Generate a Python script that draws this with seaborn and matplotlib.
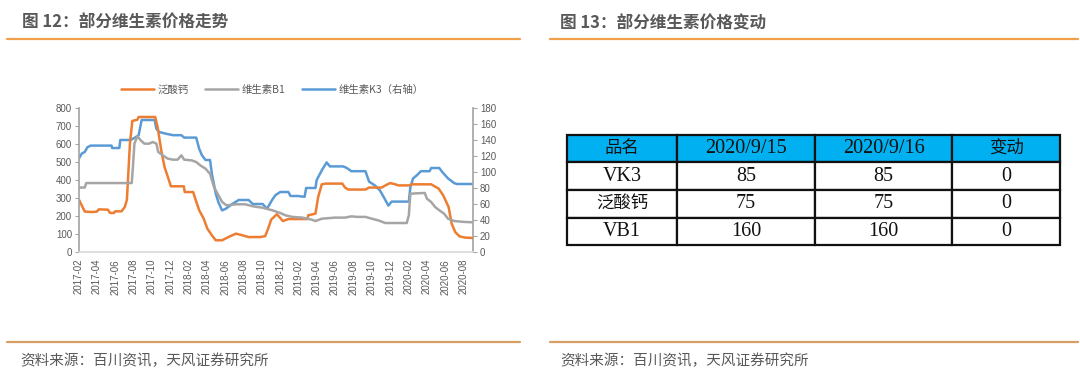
import pandas as pd
import seaborn as sns
import matplotlib.pyplot as plt
import matplotlib.dates as mdates
from matplotlib.lines import Line2D

# ---- data ----
calcium_dates = ["2017-02-01", "2017-02-20", "2017-03-15", "2017-04-01", "2017-04-08", "2017-05-08",
                 "2017-05-15", "2017-05-28", "2017-06-01", "2017-06-22", "2017-07-03", "2017-07-10",
                 "2017-07-20", "2017-07-28", "2017-08-14", "2017-08-18", "2017-10-12", "2017-10-20",
                 "2017-11-01", "2017-11-12", "2017-11-23", "2017-12-03", "2018-01-15", "2018-01-18",
                 "2018-02-15", "2018-02-20", "2018-03-07", "2018-03-22", "2018-04-03", "2018-04-18",
                 "2018-05-01", "2018-05-22", "2018-06-12", "2018-07-07", "2018-07-28", "2018-08-18",
                 "2018-09-25", "2018-10-12", "2018-10-22", "2018-11-01", "2018-11-20", "2018-12-10",
                 "2018-12-28", "2019-03-01", "2019-03-04", "2019-03-28", "2019-04-06", "2019-04-18",
                 "2019-05-01", "2019-06-25", "2019-07-04", "2019-07-15", "2019-09-10", "2019-09-22",
                 "2019-11-03", "2019-11-15", "2019-12-01", "2019-12-18", "2019-12-28", "2020-02-01",
                 "2020-02-12", "2020-04-15", "2020-05-10", "2020-05-25", "2020-06-12", "2020-06-22",
                 "2020-07-04", "2020-07-18", "2020-08-06", "2020-09-01"]
calcium_vals = [290, 225, 222, 224, 237, 235,
                217, 217, 226, 226, 250, 290,
                600, 728, 735, 750, 750, 694,
                565, 472, 417, 365, 365, 333,
                333, 306, 232, 185, 130, 93,
                65, 65, 83, 102, 93, 83,
                83, 88, 130, 180, 210, 172,
                183, 183, 204, 213, 306, 376,
                380, 380, 358, 347, 347, 358,
                358, 370, 383, 376, 370, 370,
                376, 376, 352, 315, 250, 158,
                111, 87, 80, 78]

b1_dates = ["2017-02-01", "2017-02-20", "2017-02-25", "2017-07-26", "2017-07-30", "2017-08-04",
            "2017-08-14", "2017-08-25", "2017-09-06", "2017-09-22", "2017-10-04", "2017-10-16",
            "2017-10-22", "2017-11-06", "2017-11-22", "2017-12-10", "2017-12-25", "2018-01-07",
            "2018-01-16", "2018-02-10", "2018-02-25", "2018-03-10", "2018-03-28", "2018-04-12",
            "2018-04-25", "2018-05-10", "2018-05-22", "2018-06-06", "2018-07-07", "2018-08-07",
            "2018-09-01", "2018-10-04", "2018-11-04", "2018-11-22", "2018-12-01", "2018-12-18",
            "2019-01-10", "2019-02-12", "2019-03-15", "2019-03-28", "2019-04-18", "2019-06-01",
            "2019-07-04", "2019-07-25", "2019-08-15", "2019-09-10", "2019-10-01", "2019-10-22",
            "2019-11-15", "2020-01-25", "2020-02-01", "2020-02-06", "2020-03-25", "2020-04-01",
            "2020-04-15", "2020-04-28", "2020-05-12", "2020-05-28", "2020-06-10", "2020-07-01",
            "2020-08-03", "2020-09-01"]
b1_vals = [358, 358, 383, 383, 472, 602,
           643, 620, 602, 602, 611, 602,
           556, 537, 519, 513, 513, 537,
           513, 509, 500, 482, 463, 435,
           361, 315, 278, 259, 265, 265,
           254, 246, 232, 222, 217, 204,
           195, 191, 180, 172, 185, 191,
           191, 198, 195, 195, 185, 176,
           161, 161, 204, 324, 328, 296,
           278, 250, 232, 213, 185, 172,
           167, 165]

k3_dates = ["2017-02-01", "2017-02-10", "2017-02-20", "2017-03-01", "2017-03-12", "2017-05-20",
            "2017-05-22", "2017-06-15", "2017-06-18", "2017-07-22", "2017-08-06", "2017-08-18",
            "2017-08-28", "2017-10-10", "2017-10-16", "2017-10-25", "2017-11-15", "2017-12-10",
            "2018-01-07", "2018-01-16", "2018-02-25", "2018-03-07", "2018-03-16", "2018-03-28",
            "2018-04-12", "2018-04-18", "2018-05-01", "2018-05-10", "2018-05-22", "2018-06-03",
            "2018-06-25", "2018-07-16", "2018-08-18", "2018-09-01", "2018-10-04", "2018-10-18",
            "2018-11-04", "2018-11-15", "2018-12-01", "2018-12-28", "2019-01-04", "2019-01-28",
            "2019-02-20", "2019-02-25", "2019-03-28", "2019-04-01", "2019-04-18", "2019-05-04",
            "2019-05-15", "2019-06-28", "2019-07-10", "2019-07-25", "2019-09-10", "2019-09-22",
            "2019-10-12", "2019-10-28", "2019-11-15", "2019-11-25", "2019-12-06", "2020-02-01",
            "2020-02-06", "2020-02-15", "2020-02-28", "2020-03-12", "2020-04-10", "2020-04-15",
            "2020-05-12", "2020-05-22", "2020-06-10", "2020-07-01", "2020-07-10", "2020-09-01"]
k3_vals = [117, 123, 125, 131, 133, 133,
           130, 130, 140, 140, 143, 146,
           165, 165, 154, 150, 148, 146,
           146, 143, 143, 129, 121, 115,
           115, 98, 73, 62, 52, 54,
           60, 65, 65, 60, 60, 54,
           65, 71, 75, 75, 70, 70,
           69, 80, 80, 90, 102, 112,
           107, 107, 105, 101, 101, 88,
           83, 77, 65, 58, 63, 63,
           81, 92, 96, 101, 101, 105,
           105, 100, 92, 86, 85, 85]

left_ticks = [0, 100, 200, 300, 400, 500, 600, 700, 800]
right_ticks = [0, 20, 40, 60, 80, 100, 120, 140, 160, 180]

table_header = ["品名", "2020/9/15", "2020/9/16", "变动"]
table_names = ["VK3", "泛酸钙", "VB1"]
price_0915 = [85, 75, 160]
price_0916 = [85, 75, 160]
price_change = [0, 0, 0]

sns.set_theme(style="white")
plt.rcParams["font.family"] = ["Noto Sans CJK SC", "DejaVu Sans"]

C_ORANGE = "#ED7D31"
C_GRAY = "#A5A5A5"
C_BLUE = "#5B9BD5"
TXT = "#595959"

fig = plt.figure(figsize=(10.8, 3.77), dpi=100)

# ---- headings, separators, sources ----
fig.text(22 / 1080, 1 - 23 / 377, "图 12：部分维生素价格走势", fontsize=12, fontweight="bold",
         color=TXT, va="center", ha="left")
fig.text(560 / 1080, 1 - 23 / 377, "图 13：部分维生素价格变动", fontsize=12, fontweight="bold",
         color=TXT, va="center", ha="left")
for x0, x1 in [(7, 520), (550, 1078)]:
    fig.add_artist(Line2D([x0 / 1080, x1 / 1080], [1 - 39 / 377] * 2, color="#F0A04B", lw=1.6))
    fig.add_artist(Line2D([x0 / 1080, x1 / 1080], [1 - 342 / 377] * 2, color="#D69E64", lw=1.6))
fig.text(20 / 1080, 1 - 361 / 377, "资料来源：百川资讯，天风证券研究所", fontsize=10.5,
         color=TXT, va="center", ha="left")
fig.text(560 / 1080, 1 - 361 / 377, "资料来源：百川资讯，天风证券研究所", fontsize=10.5,
         color=TXT, va="center", ha="left")

# ---- left chart ----
ax = fig.add_axes([79 / 1080, 1 - 252 / 377, 394 / 1080, 144 / 377])
ax2 = ax.twinx()

calcium = pd.DataFrame({"date": pd.to_datetime(calcium_dates), "value": calcium_vals})
b1 = pd.DataFrame({"date": pd.to_datetime(b1_dates), "value": b1_vals})
k3 = pd.DataFrame({"date": pd.to_datetime(k3_dates), "value": k3_vals})

sns.lineplot(data=calcium, x="date", y="value", ax=ax, color=C_ORANGE, lw=1.8, label="泛酸钙", legend=False)
sns.lineplot(data=b1, x="date", y="value", ax=ax, color=C_GRAY, lw=1.8, label="维生素B1", legend=False)
sns.lineplot(data=k3, x="date", y="value", ax=ax2, color=C_BLUE, lw=1.8, label="维生素K3（右轴）", legend=False)
ax.set_zorder(ax2.get_zorder() + 1)
ax.patch.set_visible(False)

ax.set_xlim(pd.Timestamp("2017-02-01"), pd.Timestamp("2020-09-01"))
ax.set_ylim(0, 800)
ax2.set_ylim(0, 180)
ax.set_yticks(left_ticks)
ax2.set_yticks(right_ticks)
ax.xaxis.set_major_locator(mdates.MonthLocator(bymonth=[2, 4, 6, 8, 10, 12]))
ax.xaxis.set_major_formatter(mdates.DateFormatter("%Y-%m"))
ax.set_xlabel("")
ax.set_ylabel("")
ax2.set_ylabel("")
ax.grid(False)
ax2.grid(False)

for a in (ax, ax2):
    a.tick_params(labelsize=7, colors=TXT, length=3, width=0.8, direction="out")
    for lab in a.get_xticklabels() + a.get_yticklabels():
        lab.set_fontfamily(["Liberation Sans", "DejaVu Sans"])
    for s in a.spines.values():
        s.set_visible(False)
ax.tick_params(axis="x", rotation=90, pad=2, color="#D9D9D9")
ax.tick_params(axis="y", color="#A6A6A6", pad=2)
ax2.tick_params(axis="y", color="#A6A6A6", pad=2)
ax.spines["left"].set_visible(True)
ax.spines["left"].set_color("#A6A6A6")
ax.spines["bottom"].set_visible(True)
ax.spines["bottom"].set_color("#D9D9D9")
ax2.spines["right"].set_visible(True)
ax2.spines["right"].set_color("#A6A6A6")

h1, l1 = ax.get_legend_handles_labels()
h2, l2 = ax2.get_legend_handles_labels()
fig.legend(h1 + h2, l1 + l2, loc="center", bbox_to_anchor=(272 / 1080, 1 - 90 / 377), ncol=3,
           frameon=False, fontsize=7.5, handlelength=3.2, columnspacing=1.6, handletextpad=0.3,
           labelcolor=TXT)

# ---- right table ----
tax = fig.add_axes([567 / 1080, 1 - 245 / 377, 493 / 1080, 110 / 377])
tax.axis("off")
rows = [[n, str(a), str(b), str(c)] for n, a, b, c in zip(table_names, price_0915, price_0916, price_change)]
tbl = tax.table(cellText=rows, colLabels=table_header, cellLoc="center", bbox=[0, 0, 1, 1],
                colWidths=[110, 138, 137, 108])
tbl.auto_set_font_size(False)
for (r, c), cell in tbl.get_celld().items():
    cell.set_edgecolor("#111111")
    cell.set_linewidth(1.6)
    cell.set_facecolor("#00B0F0" if r == 0 else "white")
    t = cell.get_text()
    is_cjk = any(ord(ch) > 0x2E80 for ch in t.get_text())
    t.set_fontsize(12.5 if is_cjk else 14.5)
    t.set_color("#111111")
    t.set_fontfamily(["Liberation Serif", "Noto Sans CJK SC"])

fig.savefig("out.png", dpi=100)
